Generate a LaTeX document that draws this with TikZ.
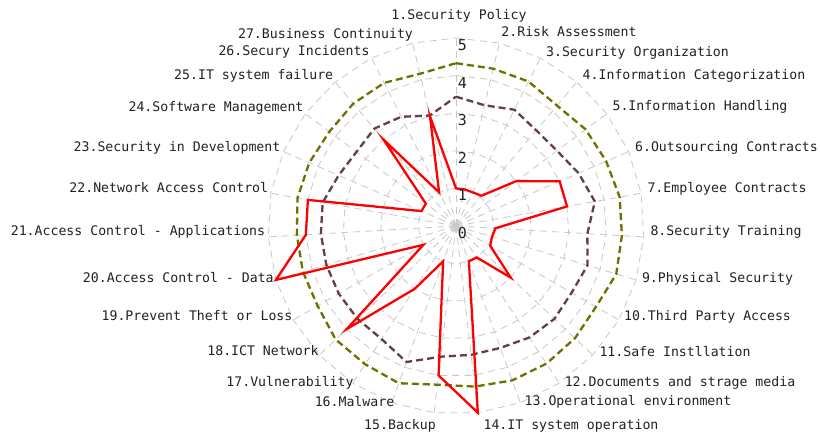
\documentclass[tikz,border=0pt]{standalone}
\usepackage{fontspec}
\newfontfamily\labfont{DejaVu Sans Mono}
\usetikzlibrary{calc}
\definecolor{gridgray}{RGB}{200,200,200}
\definecolor{olivesr}{RGB}{112,112,0}
\definecolor{brownsr}{RGB}{100,64,64}
\definecolor{redsr}{RGB}{255,0,0}
\definecolor{labgray}{RGB}{34,34,34}
\begin{document}
\begin{tikzpicture}[x=1pt,y=1pt,
  gridline/.style={draw=gridgray, line width=0.8pt, dash pattern=on 7pt off 5pt},
  oliveline/.style={draw=olivesr, line width=2.3pt, dash pattern=on 7pt off 4pt, line join=round},
  brownline/.style={draw=brownsr, line width=2.3pt, dash pattern=on 7pt off 4pt, line join=round},
  redline/.style={draw=redsr, line width=2.3pt, line join=miter},
  catlabel/.style={font=\labfont\fontsize{13.2}{14}\selectfont, text=labgray, inner sep=0pt, text height=10pt, text depth=0pt, anchor=center},
  ticklabel/.style={font=\labfont\fontsize{15}{16}\selectfont, text=labgray, inner sep=0pt, text height=11pt, text depth=0pt, anchor=center}
]
\useasboundingbox (0,0) rectangle (820,436);
\fill[white] (0,0) rectangle (820,436);
\coordinate (c) at (456,210);
\def\U{37.6}

% radial grid lines
\foreach \k in {1,...,27}{
  \coordinate (ax\k) at ($(c)+({90-(\k-1)*360/27}:5*\U)$);
  \draw[gridline] (c) -- (ax\k);
}
% concentric grid polygons
\foreach \r in {1,...,5}{
  \foreach \k in {1,...,27}{
    \coordinate (g\r-\k) at ($(c)+({90-(\k-1)*360/27}:\r*\U)$);
  }
  \draw[gridline] (g\r-1) \foreach \k in {2,...,27}{ -- (g\r-\k) } -- cycle;
}

% olive series
\foreach \v [count=\k] in {4.33,4.3,4.3,4.18,4.3,4.35,4.42,4.42,4.45,4.3,4.35,4.38,4.37,4.3,4.25,4.45,4.4,4.4,4.25,4.25,4.24,4.28,4.25,4.2,4.25,4.26,4.16}{
  \coordinate (o\k) at ($(c)+({90-(\k-1)*360/27}:\v*\U)$);
}
\draw[oliveline] (o1) \foreach \k in {2,...,27}{ -- (o\k) } -- cycle;

% brown series
\foreach \v [count=\k] in {3.44,3.3,3.46,3.32,3.35,3.55,3.75,3.5,3.65,3.55,3.6,3.55,3.45,3.45,3.5,3.85,3.6,3.6,3.6,3.6,3.6,3.6,3.4,3.3,3.38,3.25,3.02}{
  \coordinate (b\k) at ($(c)+({90-(\k-1)*360/27}:\v*\U)$);
}
\draw[brownline] (b1) \foreach \k in {2,...,27}{ -- (b\k) } -- cycle;

% red series
\foreach \v [count=\k] in {1,1,1,1.05,2,3,3,1.05,1,1.05,2,1,1,5,4,1,2,4,1,5,4,4,1,1,3,1,3}{
  \coordinate (r\k) at ($(c)+({90-(\k-1)*360/27}:\v*\U)$);
}
\draw[redline] (r1) \foreach \k in {2,...,27}{ -- (r\k) } -- cycle;

% tick labels
\foreach \t in {0,...,5}{
  \node[ticklabel] (t\t) at ($(c)+(6.5,{\t*\U-7})$) {\t};
}

% category labels
\node[catlabel] (l1) at (459,421) {1.Security Policy};
\node[catlabel] (l2) at (569,404) {2.Risk Assessment};
\node[catlabel] (l3) at (637.5,384) {3.Security Organization};
\node[catlabel] (l4) at (694,361) {4.Information Categorization};
\node[catlabel] (l5) at (700,330) {5.Information Handling};
\node[catlabel] (l6) at (726.5,289) {6.Outsourcing Contracts};
\node[catlabel] (l7) at (727,248) {7.Employee Contracts};
\node[catlabel] (l8) at (726,205) {8.Security Training};
\node[catlabel] (l9) at (717.5,158) {9.Physical Security};
\node[catlabel] (l10) at (707.5,120) {10.Third Party Access};
\node[catlabel] (l11) at (675,84) {11.Safe Instllation};
\node[catlabel] (l12) at (680,54) {12.Documents and strage media};
\node[catlabel] (l13) at (628,35) {13.Operational environment};
\node[catlabel] (l14) at (571,11) {14.IT system operation};
\node[catlabel] (l15) at (400,11) {15.Backup};
\node[catlabel] (l16) at (354.5,34) {16.Malware};
\node[catlabel] (l17) at (290,54) {17.Vulnerability};
\node[catlabel] (l18) at (263,85) {18.ICT Network};
\node[catlabel] (l19) at (197,120) {19.Prevent Theft or Loss};
\node[catlabel] (l20) at (178.3,158) {20.Access Control - Data};
\node[catlabel] (l21) at (138,205) {21.Access Control - Applications};
\node[catlabel] (l22) at (168.8,248) {22.Network Access Control};
\node[catlabel] (l23) at (177,289) {23.Security in Development};
\node[catlabel] (l24) at (216,329) {24.Software Management};
\node[catlabel] (l25) at (253.7,361) {25.IT system failure};
\node[catlabel] (l26) at (294,385) {26.Secury Incidents};
\node[catlabel] (l27) at (325.5,402) {27.Business Continuity};
\end{tikzpicture}
\end{document}
